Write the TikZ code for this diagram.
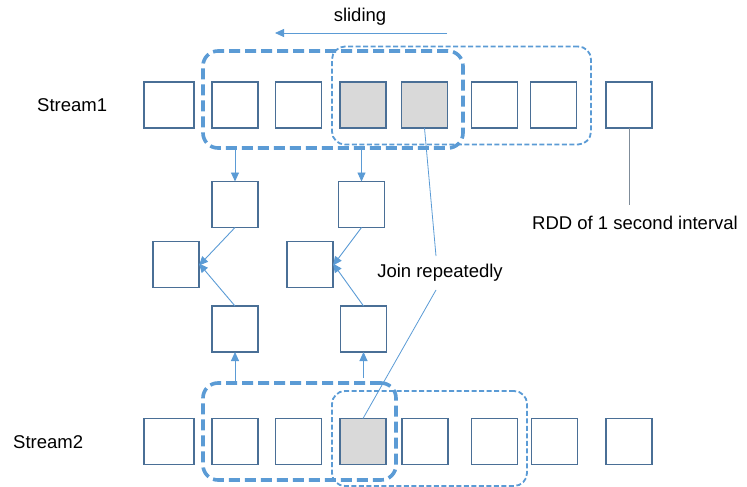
\documentclass[tikz,border=0pt]{standalone}
\usepackage{fontspec}
\setmainfont{Liberation Sans}
\usetikzlibrary{arrows.meta}
\definecolor{boxc}{HTML}{4A6F96}
\definecolor{winc}{HTML}{5B9BD5}
\definecolor{grayf}{HTML}{D9D9D9}
\definecolor{linec}{HTML}{7F8C99}
\begin{document}
\begin{tikzpicture}[x=1pt,y=-1pt,
  rdd/.style={draw=boxc,line width=1.4pt,fill=white,inner sep=0pt,outer sep=0pt,minimum width=46pt,minimum height=46pt},
  grayrdd/.style={rdd,fill=grayf},
  thickwin/.style={draw=winc,line width=3.6pt,dash pattern=on 11pt off 5pt,rounded corners=15pt,inner sep=0pt,outer sep=0pt},
  thinwin/.style={draw=winc,line width=1.8pt,dash pattern=on 5pt off 2.5pt,rounded corners=13pt,inner sep=0pt,outer sep=0pt},
  conn/.style={draw=winc,line width=0.9pt,-{Triangle[length=9pt,width=8pt]}},
  thinline/.style={draw=winc,line width=0.8pt},
  lbl/.style={font=\fontsize{18.5}{22}\selectfont,inner sep=0pt}
]
\useasboundingbox (0,0) rectangle (747,487);
% windows (behind boxes)
\node[thinwin,minimum width=259pt,minimum height=98pt] (w1b) at (461.5,95.5) {};
\node[thinwin,minimum width=195pt,minimum height=95pt] (w2b) at (429.5,438.5) {};
% Stream1
\node[rdd,minimum width=50pt] (a1) at (169,105) {};
\node[rdd] (a2) at (235,105) {};
\node[rdd] (a3) at (298.5,105) {};
\node[grayrdd] (a4) at (363,105) {};
\node[grayrdd] (a5) at (424.5,105) {};
\node[rdd] (a6) at (494.5,105) {};
\node[rdd] (a7) at (553.5,105) {};
\node[rdd] (a8) at (629,105) {};
% Stream2
\node[rdd,minimum width=50pt] (b1) at (169,441.5) {};
\node[rdd] (b2) at (235,441.5) {};
\node[rdd] (b3) at (298.5,441.5) {};
\node[grayrdd] (b4) at (363,441.5) {};
\node[rdd] (b5) at (425,441.5) {};
\node[rdd] (b6) at (494.5,441.5) {};
\node[rdd] (b7) at (554.5,441.5) {};
\node[rdd] (b8) at (629,441.5) {};
% thick windows
\node[thickwin,minimum width=260pt,minimum height=97pt] (w1a) at (333,99.5) {};
\node[thickwin,minimum width=193pt,minimum height=97pt] (w2a) at (299.5,431.5) {};
% middle boxes
\node[rdd] (t1) at (235,204.5) {};
\node[rdd] (t2) at (361.5,204.5) {};
\node[rdd] (m1) at (176,264.5) {};
\node[rdd] (m2) at (310,264.5) {};
\node[rdd] (u1) at (235,329) {};
\node[rdd] (u2) at (363.5,329) {};
% arrows
\draw[conn] (w1a.south -| t1) -- (t1.north);
\draw[conn] (w1a.south -| t2) -- (t2.north);
\draw[conn] (w2a.north -| u1) -- (u1.south);
\draw[conn] ([yshift=5pt]w2a.north -| u2) -- (u2.south);
\draw[conn] (t1.south) -- ([yshift=-1pt]m1.east);
\draw[conn] (u1.north) -- ([yshift=1pt]m1.east);
\draw[conn] (t2.south) -- ([yshift=-1pt]m2.east);
\draw[conn] (u2.north) -- ([yshift=1pt]m2.east);
% labels
\node[lbl,anchor=west] (s1) at (37,105) {Stream1};
\node[lbl,anchor=west] (s2) at (13,442) {Stream2};
\node[lbl] (sl) at (360,17) {sliding};
\coordinate (sr) at (447,33);
\coordinate (sa) at (275,33);
\draw[conn,line width=0.8pt] (sr) -- (sa);
\node[lbl] (join) at (440,273) {Join repeatedly};
\node[lbl,anchor=west] (rddl) at (532,223) {RDD of 1 second interval};
\coordinate (jt) at (436,256);
\coordinate (jb) at (436,290);
\draw[thinline] (a5.south) -- (jt);
\draw[thinline] (jb) -- (b4.north);
\coordinate (rt) at (629,205);
\draw[draw=linec,line width=0.9pt] (a8.south) -- (rt);
\end{tikzpicture}
\end{document}
